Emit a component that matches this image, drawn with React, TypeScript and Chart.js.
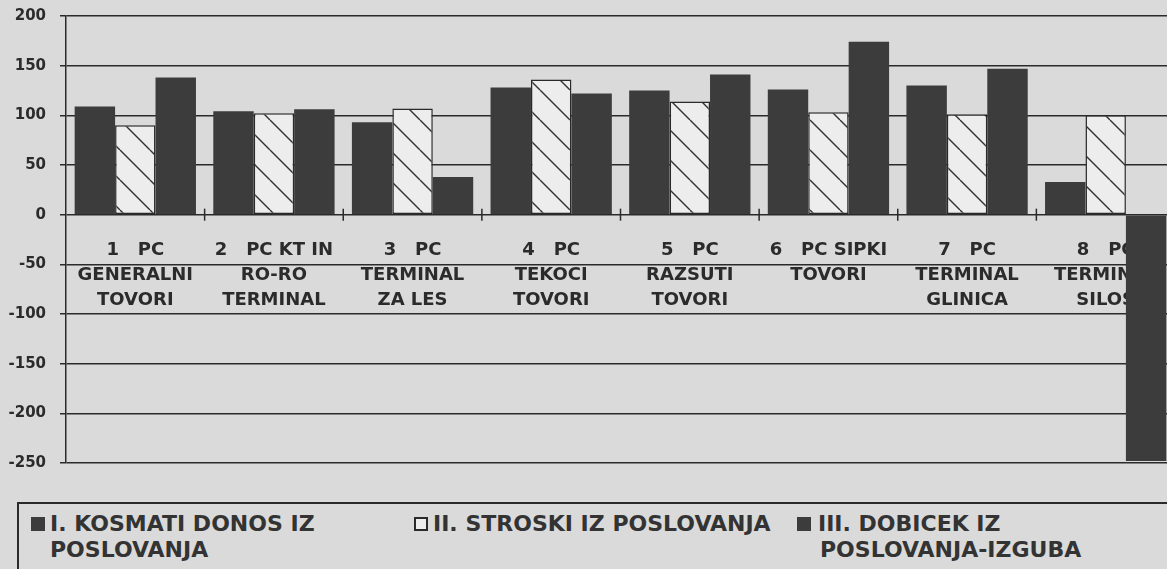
import React, { useEffect, useRef } from "react";
import { Chart, registerables } from "chart.js";

Chart.register(...registerables);

const categories: string[][] = [
  ["1   PC", "GENERALNI", "TOVORI"],
  ["2   PC KT IN", "RO-RO", "TERMINAL"],
  ["3   PC", "TERMINAL", "ZA LES"],
  ["4   PC", "TEKOCI", "TOVORI"],
  ["5   PC", "RAZSUTI", "TOVORI"],
  ["6   PC SIPKI", "TOVORI"],
  ["7   PC", "TERMINAL", "GLINICA"],
  ["8   PC", "TERMINAL", "SILOS"],
];

const kosmatiDonos = [109, 104, 93, 128, 125, 126, 130, 33];
const stroski = [90, 102, 107, 136, 114, 103, 101, 100];
const dobicek = [138, 106, 38, 122, 141, 174, 147, -248];

const seriesLabels: string[][] = [
  ["I. KOSMATI DONOS IZ", "POSLOVANJA"],
  ["II. STROSKI IZ POSLOVANJA"],
  ["III. DOBICEK IZ", "POSLOVANJA-IZGUBA"],
];

const yMin = -250;
const yMax = 200;
const yStep = 50;

const DARK = "#3c3c3c";
const LINE = "#2a2a2a";
const BG = "#dadada";
const FONT = "'DejaVu Sans', sans-serif";

function makeHatch(): CanvasPattern | string {
  const s = 30;
  const c = document.createElement("canvas");
  c.width = s;
  c.height = s;
  const ctx = c.getContext("2d");
  if (!ctx) return "#ededed";
  ctx.fillStyle = "#ededed";
  ctx.fillRect(0, 0, s, s);
  ctx.strokeStyle = "#333333";
  ctx.lineWidth = 1.4;
  for (const k of [-s, 0, s]) {
    ctx.beginPath();
    ctx.moveTo(k, 0);
    ctx.lineTo(k + s, s);
    ctx.stroke();
  }
  const p = ctx.createPattern(c, "repeat");
  return p || "#ededed";
}

const crossTicks = {
  id: "crossTicks",
  beforeDatasetsDraw(chart: any) {
    const x = chart.scales.x;
    const y = chart.scales.y;
    const ctx = chart.ctx;
    const y0 = y.getPixelForValue(0);
    ctx.save();
    ctx.strokeStyle = LINE;
    ctx.lineWidth = 1.5;
    for (let i = 1; i < categories.length; i++) {
      const px = (x.getPixelForValue(i - 1) + x.getPixelForValue(i)) / 2;
      ctx.beginPath();
      ctx.moveTo(px, y0 - 6);
      ctx.lineTo(px, y0 + 6);
      ctx.stroke();
    }
    ctx.restore();
  },
};

export default function App() {
  const ref = useRef<HTMLCanvasElement | null>(null);

  useEffect(() => {
    if (!ref.current) return;
    const hatch = makeHatch();
    const chart = new Chart(ref.current, {
      type: "bar",
      data: {
        labels: categories,
        datasets: [
          {
            label: seriesLabels[0].join(" "),
            data: kosmatiDonos,
            backgroundColor: DARK,
            borderWidth: 0,
          },
          {
            label: seriesLabels[1].join(" "),
            data: stroski,
            backgroundColor: hatch as any,
            borderColor: LINE,
            borderWidth: 1.5,
            borderSkipped: false,
          },
          {
            label: seriesLabels[2].join(" "),
            data: dobicek,
            backgroundColor: DARK,
            borderWidth: 0,
          },
        ],
      },
      plugins: [crossTicks],
      options: {
        responsive: false,
        animation: false,
        devicePixelRatio: 1,
        layout: { padding: { left: 0, right: 5, top: 16, bottom: 17 } },
        plugins: {
          legend: { display: false },
          tooltip: { enabled: false },
        },
        datasets: {
          bar: { categoryPercentage: 0.875, barPercentage: 1.0 },
        },
        scales: {
          x: {
            position: { y: 0 } as any,
            grid: { display: false, drawTicks: false },
            border: { display: false },
            afterFit: (scale: any) => {
              scale.paddingLeft = 0;
              scale.paddingRight = 0;
              scale.paddingTop = 0;
              scale.paddingBottom = 0;
            },
            ticks: {
              padding: 23,
              color: "#2b2b2b",
              maxRotation: 0,
              autoSkip: false,
              font: { family: FONT, size: 18, weight: "bold", lineHeight: 1.4 },
            },
          },
          y: {
            min: yMin,
            max: yMax,
            afterFit: (scale: any) => {
              scale.width = 66;
              scale.paddingTop = 0;
              scale.paddingBottom = 0;
            },
            grid: {
              color: LINE,
              lineWidth: 1.5,
              drawTicks: true,
              tickLength: 6,
            },
            border: { display: true, color: LINE, width: 1.5 },
            ticks: {
              stepSize: yStep,
              padding: 14,
              color: "#2b2b2b",
              font: { family: FONT, size: 15, weight: "bold" },
            },
          },
        },
      },
    });
    return () => chart.destroy();
  }, []);

  const markerBase: React.CSSProperties = {
    position: "absolute",
    width: 14,
    height: 14,
    boxSizing: "border-box",
  };
  const textBase: React.CSSProperties = {
    position: "absolute",
    top: 511,
    fontFamily: FONT,
    fontWeight: "bold",
    fontSize: 22,
    lineHeight: "26px",
    color: "#333",
    whiteSpace: "nowrap",
  };

  return (
    <div
      style={{
        position: "fixed",
        left: 0,
        top: 0,
        width: 1167,
        height: 569,
        overflow: "hidden",
        background: BG,
      }}
    >
      <canvas
        ref={ref}
        width={1180}
        height={480}
        style={{ display: "block", width: 1180, height: 480 }}
      />
      <div
        style={{
          position: "absolute",
          left: 17,
          top: 502,
          width: 1200,
          height: 120,
          border: `2px solid ${LINE}`,
          boxSizing: "border-box",
        }}
      />
      <div style={{ ...markerBase, left: 31, top: 517, background: DARK }} />
      <div style={{ ...textBase, left: 50 }}>
        {seriesLabels[0].map((l, i) => (
          <div key={i}>{l}</div>
        ))}
      </div>
      <div
        style={{
          ...markerBase,
          left: 414,
          top: 517,
          background: "#ededed",
          border: `2px solid ${LINE}`,
        }}
      />
      <div style={{ ...textBase, left: 433 }}>
        {seriesLabels[1].map((l, i) => (
          <div key={i}>{l}</div>
        ))}
      </div>
      <div style={{ ...markerBase, left: 797, top: 517, background: DARK }} />
      <div style={{ ...textBase, left: 818 }}>
        <div>{seriesLabels[2][0]}</div>
        <div style={{ paddingLeft: 2 }}>{seriesLabels[2][1]}</div>
      </div>
    </div>
  );
}
